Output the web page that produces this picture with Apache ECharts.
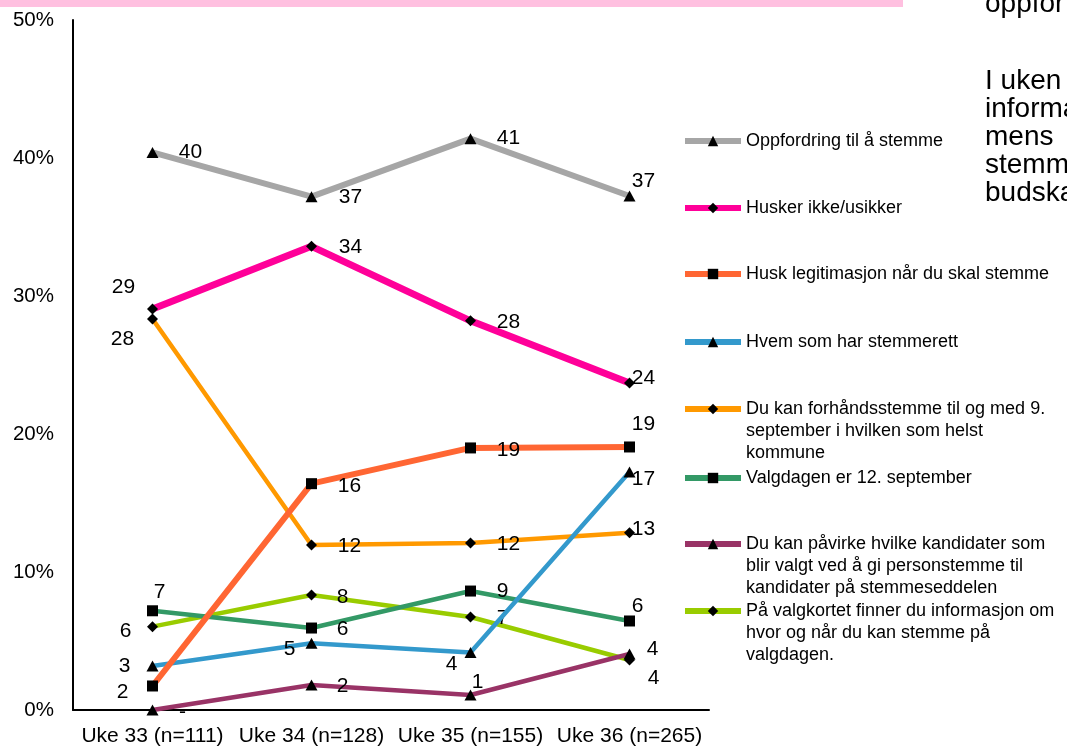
<!DOCTYPE html>
<html>
<head>
<meta charset="utf-8">
<script src="https://cdn.jsdelivr.net/npm/echarts@6/dist/echarts.min.js"></script>
<style>
html,body{margin:0;padding:0;background:#fff;}
#chart{width:1067px;height:747px;}
</style>
</head>
<body>
<div id="chart"></div>
<script>
// ---- data ----
const categories = ['Uke 33 (n=111)', 'Uke 34 (n=128)', 'Uke 35 (n=155)', 'Uke 36 (n=265)'];
const seriesNames = [
  'Oppfordring til å stemme',
  'Husker ikke/usikker',
  'Husk legitimasjon når du skal stemme',
  'Hvem som har stemmerett',
  'Du kan forhåndsstemme til og med 9. september i hvilken som helst kommune',
  'Valgdagen er 12. september',
  'Du kan påvirke hvilke kandidater som blir valgt ved å gi personstemme til kandidater på stemmeseddelen',
  'På valgkortet finner du informasjon om hvor og når du kan stemme på valgdagen.'
];
const legendText = [
  'Oppfordring til å stemme',
  'Husker ikke/usikker',
  'Husk legitimasjon når du skal stemme',
  'Hvem som har stemmerett',
  'Du kan forhåndsstemme til og med 9.\nseptember i hvilken som helst\nkommune',
  'Valgdagen er 12. september',
  'Du kan påvirke hvilke kandidater som\nblir valgt ved å gi personstemme til\nkandidater på stemmeseddelen',
  'På valgkortet finner du informasjon om\nhvor og når du kan stemme på\nvalgdagen.'
];
const oppfordring  = [40.4, 37.2, 41.4, 37.25];
const huskerIkke   = [29.06, 33.6, 28.2, 23.7];
const legitimasjon = [1.74, 16.4, 18.99, 19.06];
const stemmerett   = [3.19, 4.83, 4.16, 17.25];
const forhand      = [28.33, 11.96, 12.1, 12.85];
const valgdagen    = [7.19, 5.94, 8.62, 6.45];
const personstemme = [0, 1.81, 1.09, 4.06];
const valgkortet   = [6.04, 8.33, 6.74, 3.62];
const yMin = 0, yMax = 50, yStep = 10;
const slideTextTop = 'oppfor';
const slideTextBody = 'I uken\ninforma\nmens\nstemm\nbudska';

// ---- styles ----
const allValues = [oppfordring, huskerIkke, legitimasjon, stemmerett, forhand, valgdagen, personstemme, valgkortet];
const colors = ['#a6a6a6', '#ff0099', '#ff6633', '#3399cc', '#ff9900', '#339966', '#993366', '#99cc00'];
const widths = [6, 7, 6, 4.5, 4.5, 4.5, 4.5, 4.5];
const symbols = ['triangle', 'diamond', 'rect', 'triangle', 'diamond', 'rect', 'triangle', 'diamond'];
const symSizes = { triangle: [12, 11], diamond: [11, 11], rect: [11, 11] };
const labelOffsets = [
  [[38, 0], [39, 1], [38, 0], [14, -15]],
  [[-29, -22], [39, 1], [38, 1], [14, -5]],
  [[-30, 6], [38, 3], [38, 2], [14, -23]],
  [[-28, 0], [-22, 6], [-19, 12], [14, 7]],
  [[-30, 20], [38, 1], [38, 1], [14, -3]],
  [[7, -19], [31, 1], [32, 0], [8, -15]],
  [[30, 2], [31, 1], [7, -13], [23, -5]],
  [[-27, 5], [31, 2], [32, 1], [24, 18]]
];
const legendIconCenters = [141, 208, 274, 342, 409, 478, 544, 611];
const FONT = '"Liberation Sans", Arial, sans-serif';

const n = allValues.length;
const series = allValues.map((vals, i) => ({
  name: seriesNames[i],
  type: 'line',
  z: 2 + (n - i),
  symbol: symbols[i],
  symbolSize: symSizes[symbols[i]],
  showSymbol: true,
  lineStyle: { color: colors[i], width: widths[i] },
  itemStyle: { color: '#000' },
  emphasis: { disabled: true },
  data: vals.map((v, j) => ({
    value: v,
    label: { offset: labelOffsets[i][j] }
  })),
  label: {
    show: true,
    position: 'inside',
    align: 'center',
    verticalAlign: 'middle',
    color: '#000',
    fontSize: 21,
    fontFamily: FONT,
    formatter: p => (p.value === 0 ? '-' : String(Math.round(p.value)))
  }
}));

const legends = seriesNames.map((name, i) => {
  const lines = legendText[i].split('\n').length;
  const lh = 22;
  // blank lines above so that the first text line sits level with the icon
  const shown = '\n'.repeat(lines - 1) + legendText[i];
  return {
    data: [name],
    orient: 'vertical',
    left: 682,
    top: legendIconCenters[i] - (2 * lines - 1) * lh / 2,
    padding: 0,
    itemGap: 0,
    itemWidth: 56,
    itemHeight: 13,
    selectedMode: false,
    lineStyle: { width: 6 },
    formatter: () => shown,
    textStyle: {
      fontSize: 18,
      fontFamily: FONT,
      color: '#000',
      lineHeight: lh
    }
  };
});

const chart = echarts.init(document.getElementById('chart'), null, { renderer: 'canvas' });
chart.setOption({
  animation: false,
  backgroundColor: '#fff',
  textStyle: { fontFamily: FONT },
  grid: { left: 73, right: 358, top: 20, bottom: 37, containLabel: false },
  xAxis: {
    type: 'category',
    data: categories,
    boundaryGap: true,
    axisLine: { lineStyle: { color: '#000', width: 2 } },
    axisTick: { show: false },
    axisLabel: { color: '#000', fontSize: 21, fontFamily: FONT, margin: 16, interval: 0 },
    splitLine: { show: false }
  },
  yAxis: {
    type: 'value',
    min: yMin,
    max: yMax,
    interval: yStep,
    axisLine: { show: true, lineStyle: { color: '#000', width: 2 } },
    axisTick: { show: false },
    splitLine: { show: false },
    axisLabel: { color: '#000', fontSize: 20.5, fontFamily: FONT, margin: 19, formatter: '{value}%' }
  },
  legend: legends,
  graphic: [
    { type: 'rect', left: 0, top: 0, shape: { x: 0, y: 0, width: 903, height: 7 }, style: { fill: '#ffc0e0' }, silent: true },
    { type: 'text', x: 985, y: 4, style: { text: slideTextTop, fontSize: 28, fontFamily: FONT, fill: '#000', verticalAlign: 'middle' }, silent: true },
    { type: 'text', x: 985, y: 67, style: { text: slideTextBody, fontSize: 28, lineHeight: 28, fontFamily: FONT, fill: '#000', verticalAlign: 'top' }, silent: true }
  ],
  series: series
});
</script>
</body>
</html>
